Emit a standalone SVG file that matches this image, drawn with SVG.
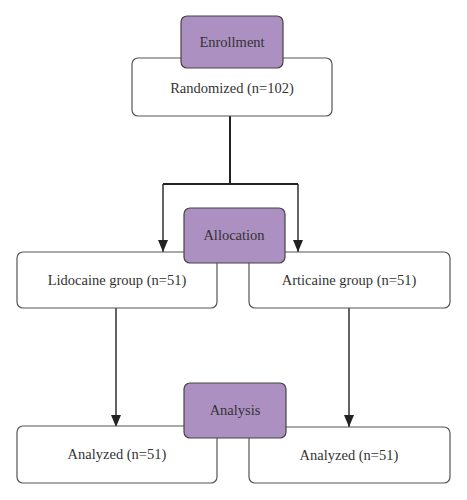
<svg xmlns="http://www.w3.org/2000/svg" width="467" height="500" viewBox="0 0 467 500">
<defs>
<marker id="arr" markerWidth="12" markerHeight="10" refX="12" refY="5" orient="auto" markerUnits="userSpaceOnUse" viewBox="0 0 12 10">
<path d="M0,0 L12,5 L0,10 Z" fill="#222"/>
</marker>
<style>
.box{fill:#fff;stroke:#555;stroke-width:1.2}
.hdr{fill:#ad90c2;stroke:#444;stroke-width:1.2}
.t{font-family:"Liberation Serif","Times New Roman",serif;font-size:14.5px;fill:#333;text-anchor:middle;dominant-baseline:central}
.c{fill:none;stroke:#222;stroke-width:1.4}
.c2{fill:none;stroke:#222;stroke-width:2}
</style>
</defs>
<rect width="467" height="500" fill="#fff"/>
<g id="connectors">
<path class="c2" d="M230,116 V184"/>
<path class="c2" d="M163,184 H298"/>
<path class="c" d="M163,184 V252" marker-end="url(#arr)"/>
<path class="c" d="M298,184 V252" marker-end="url(#arr)"/>
<path class="c" d="M116,308 V427" marker-end="url(#arr)"/>
<path class="c" d="M349,308 V427" marker-end="url(#arr)"/>
</g>
<g id="randomized">
<rect class="box" x="132" y="58" width="200" height="58" rx="6"/>
<text class="t" x="232" y="88">Randomized (n=102)</text>
</g>
<g id="enrollment">
<rect class="hdr" x="181" y="16" width="102" height="52" rx="6"/>
<text class="t" x="232" y="42">Enrollment</text>
</g>
<g id="lidocaine">
<rect class="box" x="17" y="252" width="200" height="56" rx="6"/>
<text class="t" x="117" y="280">Lidocaine group (n=51)</text>
</g>
<g id="articaine">
<rect class="box" x="249" y="252" width="201" height="56" rx="6"/>
<text class="t" x="349" y="280">Articaine group (n=51)</text>
</g>
<g id="allocation">
<rect class="hdr" x="184" y="208" width="101" height="55" rx="6"/>
<text class="t" x="234" y="235">Allocation</text>
</g>
<g id="analyzed-left">
<rect class="box" x="17" y="426" width="200" height="57" rx="6"/>
<text class="t" x="117" y="454">Analyzed (n=51)</text>
</g>
<g id="analyzed-right">
<rect class="box" x="249" y="427" width="201" height="56" rx="6"/>
<text class="t" x="349" y="455">Analyzed (n=51)</text>
</g>
<g id="analysis">
<rect class="hdr" x="184" y="383" width="102" height="55" rx="6"/>
<text class="t" x="235" y="410">Analysis</text>
</g>
</svg>
